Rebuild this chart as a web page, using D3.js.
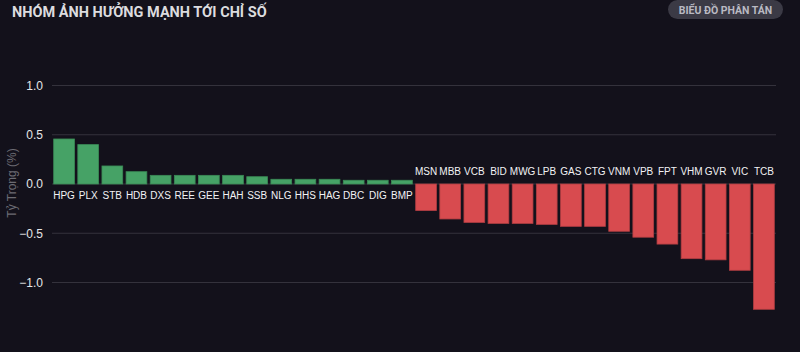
<!DOCTYPE html>
<html>
<head>
<meta charset="utf-8">
<script src="https://cdn.jsdelivr.net/npm/d3@7"></script>
<style>
  html, body { margin: 0; padding: 0; background: #13111b; }
  svg { display: block; font-family: "Liberation Sans", Arial, sans-serif; }
</style>
</head>
<body>
<div id="chart"></div>
<script>
const width = 800
const height = 352

const gainers = ["HPG", "PLX", "STB", "HDB", "DXS", "REE", "GEE", "HAH", "SSB", "NLG", "HHS", "HAG", "DBC", "DIG", "BMP"]
const gainerValues = [0.457, 0.40, 0.183, 0.125, 0.088, 0.088, 0.088, 0.088, 0.074, 0.048, 0.048, 0.048, 0.038, 0.038, 0.038]
const losers = ["MSN", "MBB", "VCB", "BID", "MWG", "LPB", "GAS", "CTG", "VNM", "VPB", "FPT", "VHM", "GVR", "VIC", "TCB"]
const loserValues = [-0.27, -0.355, -0.39, -0.40, -0.40, -0.41, -0.43, -0.43, -0.48, -0.54, -0.61, -0.758, -0.77, -0.876, -1.272]
const yTicks = [1.0, 0.5, 0.0, -0.5, -1.0]

const data = gainers.map((s, i) => ({ symbol: s, value: gainerValues[i] }))
  .concat(losers.map((s, i) => ({ symbol: s, value: loserValues[i] })))

const svg = d3.select("#chart")
  .append("svg")
  .attr("width", width)
  .attr("height", height)

svg.append("rect")
  .attr("width", width)
  .attr("height", height)
  .attr("fill", "#13111b")

// header
svg.append("text")
  .attr("x", 12)
  .attr("y", 17)
  .attr("fill", "#dcdcdf")
  .attr("font-family", "Roboto, sans-serif")
  .attr("font-size", 14.5)
  .attr("font-weight", "bold")
  .text("NHÓM ẢNH HƯỞNG MẠNH TỚI CHỈ SỐ")

const btn = svg.append("g").attr("transform", "translate(668,0)")
btn.append("rect")
  .attr("width", 115)
  .attr("height", 19)
  .attr("rx", 9.5)
  .attr("fill", "#3b3a45")
btn.append("text")
  .attr("x", 57.5)
  .attr("y", 13.5)
  .attr("text-anchor", "middle")
  .attr("fill", "#b9b9c2")
  .attr("font-family", "Roboto, sans-serif")
  .attr("font-size", 10.5)
  .attr("font-weight", "bold")
  .text("BIỂU ĐỒ PHÂN TÁN")

const xScale = d3.scaleBand()
  .domain(data.map(d => d.symbol))
  .range([52, 776])
  .paddingInner(0.14)
  .paddingOuter(0.07)

const yScale = d3.scaleLinear()
  .domain([-1.0, 1.0])
  .range([282.5, 85.5])

// grid
svg.selectAll("line.grid")
  .data(yTicks)
  .join("line")
  .attr("class", "grid")
  .attr("x1", 52)
  .attr("x2", 776)
  .attr("y1", d => yScale(d))
  .attr("y2", d => yScale(d))
  .attr("stroke", "#34323c")
  .attr("stroke-width", 1)

const yAxis = svg.append("g")
  .attr("transform", "translate(46,0)")
  .call(d3.axisLeft(yScale).tickValues(yTicks).tickFormat(d3.format(".1f")).tickSize(0))
yAxis.select(".domain").remove()
yAxis.selectAll("text")
  .attr("fill", "#e6e6e8")
  .attr("font-size", 12)
  .attr("font-family", "inherit")

svg.append("text")
  .attr("transform", "translate(16,183) rotate(-90)")
  .attr("text-anchor", "middle")
  .attr("fill", "#6c6b73")
  .attr("font-size", 12)
  .text("Tỷ Trọng (%)")

// bars
svg.selectAll("rect.bar")
  .data(data)
  .join("rect")
  .attr("class", "bar")
  .attr("x", d => xScale(d.symbol))
  .attr("width", xScale.bandwidth())
  .attr("y", d => yScale(Math.max(0, d.value)))
  .attr("height", d => Math.abs(yScale(d.value) - yScale(0)))
  .attr("fill", d => d.value >= 0 ? "#46a266" : "#d84b4f")
  .attr("stroke", d => d.value >= 0 ? "#3a8a56" : "#b03e42")
  .attr("stroke-width", 0.8)

svg.selectAll("text.lbl")
  .data(data)
  .join("text")
  .attr("class", "lbl")
  .attr("x", d => xScale(d.symbol) + xScale.bandwidth() / 2)
  .attr("y", d => d.value >= 0 ? yScale(0) + 15 : yScale(0) - 9)
  .attr("text-anchor", "middle")
  .attr("fill", "#f2f2f4")
  .attr("font-size", 10)
  .text(d => d.symbol)
</script>
</body>
</html>
